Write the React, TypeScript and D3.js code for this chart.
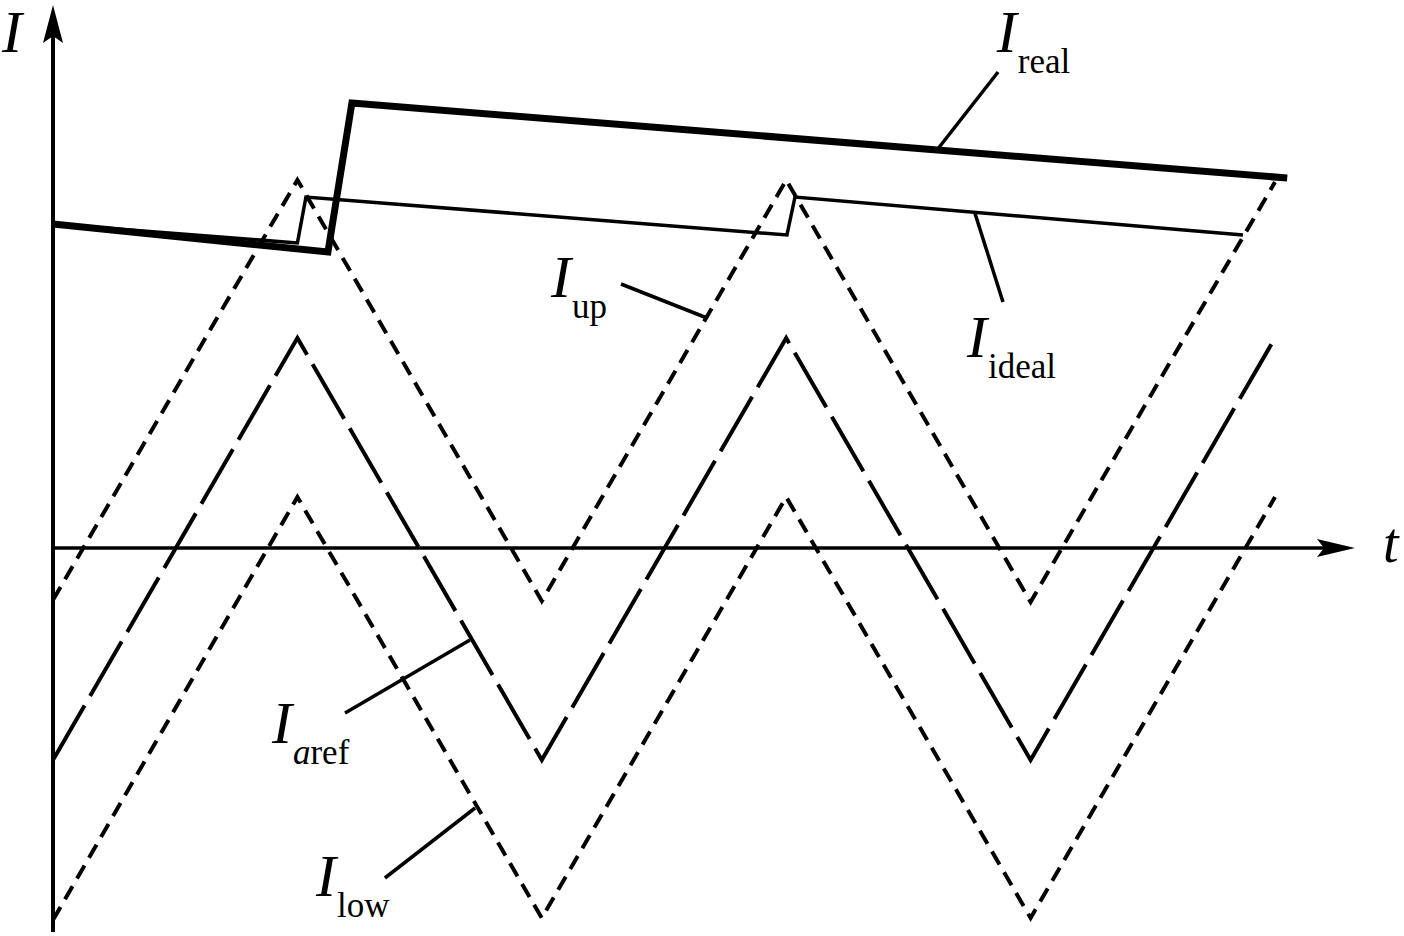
import * as d3 from 'd3';

// time in half-periods of the hysteresis band
const bandTimes = [0, 1, 2, 3, 4, 5];
const upValues = [-0.52, 3.68, -0.53, 3.68, -0.54, 3.66];
const arefValues = [-2.12, 2.1, -2.12, 2.1, -2.12, 2.1];
const lowValues = [-3.72, 0.51, -3.7, 0.51, -3.7, 0.51];

const realTimes = [0, 1.125, 1.223, 5.05];
const realValues = [3.24, 2.96, 4.45, 3.7];

const idealTimes = [0, 1.0, 1.035, 3.003, 3.036, 4.869];
const idealValues = [3.24, 3.05, 3.51, 3.13, 3.51, 3.13];

// label anchor (t, v), subscript, leader line [t0, v0, t1, v1]
const labels = [
  { sub: 'real', t: 3.862, v: 4.96, leader: [3.867, 4.76, 3.617, 3.98] },
  { sub: 'up', t: 2.038, v: 2.51, leader: [2.324, 2.64, 2.676, 2.3] },
  { sub: 'ideal', t: 3.74, v: 1.91, leader: [3.772, 3.35, 3.887, 2.46] },
  { sub: 'aref', t: 0.896, v: -1.95, leader: [1.195, -1.65, 1.706, -0.92] },
  { sub: 'low', t: 1.076, v: -3.48, leader: [1.358, -3.3, 1.727, -2.6] },
];

const W = 1404;
const H = 936;
const serif = '"Liberation Serif", "Times New Roman", serif';

export default function App() {
  const x = d3.scaleLinear().domain([0, 5]).range([53, 1275]);
  const y = d3.scaleLinear().domain([-3.8, 5.4]).range([928, 8]);

  const line = d3
    .line<[number, number]>()
    .x((d) => x(d[0]))
    .y((d) => y(d[1]));

  const zip = (ts: number[], vs: number[]) => ts.map((t, i) => [t, vs[i]] as [number, number]);

  const x0 = x(0);
  const y0 = y(0);
  const yTop = 5;
  const xEnd = 1355;

  const bands = [
    { values: upValues, dash: '15 9' },
    { values: arefValues, dash: '63 11' },
    { values: lowValues, dash: '15 9' },
  ];

  return (
    <svg width={W} height={H} style={{ position: 'absolute', left: 0, top: 0, background: '#fff' }}>
      {/* axes */}
      <line x1={x0} y1={932} x2={x0} y2={yTop + 20} stroke="#000" strokeWidth={4} />
      <path d={`M${x0},${yTop} L${x0 + 10},${yTop + 38} L${x0},${yTop + 31} L${x0 - 10},${yTop + 38} Z`} fill="#000" />
      <line x1={x0} y1={y0} x2={xEnd - 20} y2={y0} stroke="#000" strokeWidth={3.5} />
      <path d={`M${xEnd},${y0} L${xEnd - 38},${y0 - 9} L${xEnd - 31},${y0} L${xEnd - 38},${y0 + 9} Z`} fill="#000" />
      <text x={2} y={52} fontFamily={serif} fontStyle="italic" fontSize={60}>I</text>
      <text x={1383} y={562} fontFamily={serif} fontStyle="italic" fontSize={56}>t</text>

      {/* hysteresis band */}
      {bands.map((b, i) => (
        <path
          key={i}
          d={line(zip(bandTimes, b.values)) ?? ''}
          fill="none"
          stroke="#000"
          strokeWidth={4}
          strokeDasharray={b.dash}
          strokeLinejoin="miter"
        />
      ))}

      {/* ideal and real current */}
      <path d={line(zip(idealTimes, idealValues)) ?? ''} fill="none" stroke="#000" strokeWidth={3.5} strokeLinejoin="miter" />
      <path d={line(zip(realTimes, realValues)) ?? ''} fill="none" stroke="#000" strokeWidth={7} strokeLinejoin="miter" />

      {/* labels */}
      {labels.map((l) => {
        const lx = x(l.t);
        const ly = y(l.v);
        const [a, b, c, d] = l.leader;
        return (
          <g key={l.sub}>
            <line x1={x(a)} y1={y(b)} x2={x(c)} y2={y(d)} stroke="#000" strokeWidth={3.5} />
            <text x={lx} y={ly} fontFamily={serif} fontStyle="italic" fontSize={60}>I</text>
            <text x={lx + 21} y={ly + 21} fontFamily={serif} fontSize={35}>
              {l.sub === 'aref' ? (
                <>
                  <tspan fontStyle="italic">a</tspan>
                  <tspan>ref</tspan>
                </>
              ) : (
                l.sub
              )}
            </text>
          </g>
        );
      })}
    </svg>
  );
}
